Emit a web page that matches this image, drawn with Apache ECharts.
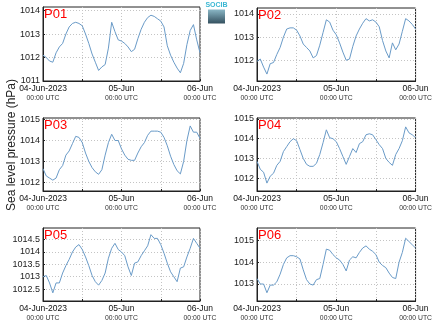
<!DOCTYPE html>
<html><head><meta charset="utf-8">
<script src="https://cdn.jsdelivr.net/npm/echarts@6/dist/echarts.min.js"></script>
<style>html,body{margin:0;padding:0;background:#fff}#c{width:435px;height:327px}</style>
</head><body><div id="c"></div>
<script>
// hours since 04-Jun-2023 00:00 UTC
const hours = [0,1,2,3,4,5,6,7,8,9,10,11,12,13,14,15,16,17,18,19,20,21,22,23,24,
  25,26,27,28,29,30,31,32,33,34,35,36,37,38,39,40,41,42,43,44,45,46,47,48];
const xTickHours = [0, 24, 48];
const xTickDates = ['04-Jun-2023', '05-Jun', '06-Jun'];
const xTickTime = '00:00 UTC';
const stations = ['P01', 'P02', 'P03', 'P04', 'P05', 'P06'];

const p01 = [1012.1,1012.0,1011.85,1011.8,1012.2,1012.45,1012.6,1013.0,1013.3,1013.45,1013.5,1013.45,1013.35,
  1013.0,1012.6,1012.15,1011.8,1011.45,1011.6,1011.7,1012.4,1013.5,1013.1,1012.75,1012.7,
  1012.6,1012.45,1012.25,1012.35,1012.8,1013.2,1013.5,1013.7,1013.8,1013.75,1013.65,1013.55,
  1013.3,1012.5,1012.1,1011.8,1011.55,1011.35,1011.75,1012.55,1013.15,1013.4,1012.75,1012.2];
const p02 = [1011.95,1012.05,1011.7,1011.4,1011.85,1011.9,1012.25,1012.55,1013.0,1013.35,1013.4,1013.4,1013.3,
  1013.05,1012.7,1012.55,1012.4,1012.1,1012.2,1012.65,1013.2,1013.75,1013.65,1013.3,1013.1,
  1012.75,1012.35,1012.0,1012.05,1012.6,1013.05,1013.35,1013.6,1013.8,1013.7,1013.75,1013.65,
  1013.45,1012.85,1012.4,1012.1,1012.75,1012.45,1012.7,1013.25,1013.8,1013.7,1013.55,1013.35];
const p03 = [1012.65,1012.3,1012.2,1012.1,1012.2,1012.6,1012.8,1013.3,1013.5,1013.85,1014.2,1014.15,1013.9,
  1013.4,1013.0,1012.7,1012.5,1012.38,1012.6,1013.3,1013.9,1014.3,1014.0,1014.0,1013.6,
  1013.3,1013.1,1013.05,1013.05,1013.4,1013.7,1013.9,1014.25,1014.45,1014.45,1014.45,1014.4,
  1014.15,1013.75,1013.25,1012.85,1012.55,1012.4,1013.0,1014.0,1014.7,1014.4,1014.4,1014.1];
const p04 = [1012.85,1012.45,1012.3,1011.75,1012.1,1012.25,1012.65,1012.85,1013.35,1013.6,1013.85,1014.0,1013.9,
  1013.45,1013.0,1012.7,1012.6,1012.6,1012.75,1013.2,1013.8,1014.45,1014.05,1014.0,1013.85,
  1013.5,1013.1,1012.7,1013.1,1013.5,1013.3,1013.75,1013.85,1014.2,1014.25,1014.2,1013.95,
  1013.7,1013.5,1013.0,1012.8,1012.65,1013.2,1013.5,1013.9,1014.6,1014.3,1014.2,1014.05];
const p05 = [1013.0,1013.05,1012.75,1012.35,1012.75,1012.75,1013.15,1013.45,1013.7,1014.0,1014.2,1014.3,1014.1,
  1013.8,1013.45,1013.05,1012.8,1012.66,1012.85,1013.15,1013.75,1014.15,1014.35,1014.1,1014.0,
  1013.85,1013.4,1013.05,1013.55,1013.6,1013.85,1014.05,1014.25,1014.7,1014.55,1014.55,1014.3,
  1013.95,1013.55,1013.2,1013.0,1012.8,1013.35,1013.4,1013.8,1014.15,1014.55,1014.35,1014.15];
const p06 = [1013.25,1013.0,1013.0,1012.6,1012.95,1012.95,1013.1,1013.45,1013.9,1014.2,1014.3,1014.3,1014.25,
  1014.15,1013.65,1013.2,1013.0,1012.95,1013.2,1013.25,1013.9,1014.6,1014.55,1014.35,1014.2,
  1014.1,1013.9,1013.6,1014.1,1014.25,1014.2,1014.45,1014.65,1014.75,1014.6,1014.5,1014.35,
  1014.0,1013.85,1013.75,1013.5,1013.3,1013.25,1014.0,1014.45,1015.1,1014.95,1014.8,1014.65];
const seriesValues = [p01, p02, p03, p04, p05, p06];

const yTicks = [
  [1011, 1012, 1013, 1014],
  [1012, 1013, 1014],
  [1012, 1013, 1014, 1015],
  [1012, 1013, 1014, 1015],
  [1012.5, 1013, 1013.5, 1014, 1014.5],
  [1013, 1014, 1015]
];
const yMin = [1011, 1011.1, 1011.58, 1011.35, 1012.02, 1012.22];
const yMax = [1014.15, 1014.26, 1015.08, 1015.05, 1014.97, 1015.57];

// layout
const gridBoxes = [
  {left: 43, top: 7, width: 157, height: 74},
  {left: 257, top: 8, width: 159, height: 73},
  {left: 43, top: 118, width: 157, height: 73},
  {left: 257, top: 118, width: 159, height: 73},
  {left: 43, top: 228, width: 157, height: 73},
  {left: 257, top: 228, width: 159, height: 73}
];
const FONT = 'Liberation Sans, Arial, sans-serif';
const gridLine = {show: true, lineStyle: {color: '#c4c4c4', width: 1, type: [1, 2]}};

const grids = [], xAxes = [], yAxes = [], series = [], titles = [];
gridBoxes.forEach((g, i) => {
  grids.push(Object.assign({show: true, borderColor: '#222', borderWidth: 1, backgroundColor: '#fff'}, g));
  xAxes.push({
    type: 'value', gridIndex: i, min: 0, max: 48, interval: 12,
    axisLine: {show: true, lineStyle: {color: '#222', width: 1}},
    axisTick: {show: true, inside: true, length: 2, lineStyle: {color: '#222'}},
    splitLine: gridLine,
    axisLabel: {
      margin: 3, fontFamily: FONT,
      formatter: v => {
        const k = xTickHours.indexOf(v);
        return k < 0 ? '' : '{a|' + xTickDates[k] + '}\n{b|' + xTickTime + '}';
      },
      rich: {
        a: {fontSize: 8.5, color: '#111', lineHeight: 10, fontFamily: FONT},
        b: {fontSize: 6.8, color: '#333', lineHeight: 9, fontFamily: FONT}
      }
    }
  });
  yAxes.push({
    type: 'value', gridIndex: i, min: yMin[i], max: yMax[i],
    axisLine: {show: true, lineStyle: {color: '#222', width: 1}},
    axisTick: {show: true, inside: true, length: 2, customValues: yTicks[i], lineStyle: {color: '#222'}},
    splitLine: gridLine,
    axisLabel: {customValues: yTicks[i], fontSize: 9, color: '#222', margin: 3, fontFamily: FONT,
      formatter: v => String(v)}
  });
  series.push({
    type: 'line', xAxisIndex: i, yAxisIndex: i, showSymbol: false, symbol: 'none',
    lineStyle: {color: '#6a9bc8', width: 1}, animation: false,
    data: hours.map((h, k) => [h, seriesValues[i][k]])
  });
  titles.push({
    text: stations[i], left: g.left + 1, top: g.top + 1, padding: 0,
    textStyle: {color: '#ff0000', fontSize: 13, fontWeight: 'normal', fontFamily: FONT}
  });
});

const chart = echarts.init(document.getElementById('c'), null, {renderer: 'canvas'});
chart.setOption({
  animation: false,
  title: titles,
  grid: grids, xAxis: xAxes, yAxis: yAxes, series: series,
  graphic: [
    {type: 'text', rotation: Math.PI / 2, x: 12, y: 145,
      style: {text: 'Sea level pressure (hPa)', fontSize: 12, fill: '#222', fontFamily: FONT,
        textAlign: 'center', textVerticalAlign: 'middle'}},
    {type: 'text', x: 216.5, y: 2,
      style: {text: 'SOCIB', fontSize: 7, fontWeight: 'bold', fill: '#3ab7d3',
        fontFamily: 'Liberation Sans Narrow, Liberation Sans, sans-serif', textAlign: 'center'}},
    {type: 'rect', shape: {x: 208, y: 9.5, width: 17, height: 14},
      style: {fill: new echarts.graphic.LinearGradient(0, 0, 0, 1, [
        {offset: 0, color: '#8ab7c6'}, {offset: 1, color: '#34505f'}])}}
  ]
});
</script></body></html>
